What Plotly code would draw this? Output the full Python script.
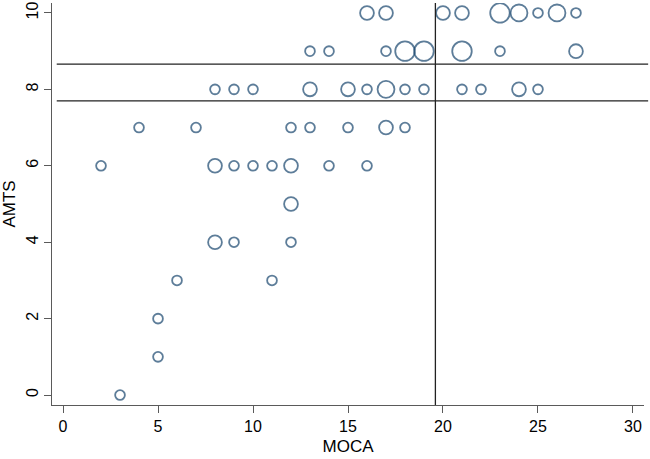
import plotly.graph_objects as go
import numpy as np

# MOCA (x), AMTS (y), number of observations at each point (weight)
moca = [16, 17, 20, 21, 23, 24, 25, 26, 27,
        13, 14, 17, 18, 19, 21, 23, 27,
        8, 9, 10, 13, 15, 16, 17, 18, 19, 21, 22, 24, 25,
        4, 7, 12, 13, 15, 17, 18,
        2, 8, 9, 10, 11, 12, 14, 16,
        12,
        8, 9, 12,
        6, 11,
        5,
        5,
        3]
amts = [10, 10, 10, 10, 10, 10, 10, 10, 10,
        9, 9, 9, 9, 9, 9, 9, 9,
        8, 8, 8, 8, 8, 8, 8, 8, 8, 8, 8, 8, 8,
        7, 7, 7, 7, 7, 7, 7,
        6, 6, 6, 6, 6, 6, 6, 6,
        5,
        4, 4, 4,
        3, 3,
        2,
        1,
        0]
count = [2, 2, 2, 2, 4, 3, 1, 3, 1,
         1, 1, 1, 4, 4, 4, 1, 2,
         1, 1, 1, 2, 2, 1, 3, 1, 1, 1, 1, 2, 1,
         1, 1, 1, 1, 1, 2, 1,
         1, 2, 1, 1, 1, 2, 1, 1,
         2,
         2, 1, 1,
         1, 1,
         1,
         1,
         1]

ref_x = 19.6          # vertical reference line (MOCA)
ref_y = [8.66, 7.70]  # horizontal reference lines (AMTS)

x_ticks = [0, 5, 10, 15, 20, 25, 30]
y_ticks = [0, 2, 4, 6, 8, 10]

navy = "#1a476f"
axis_col = "#5a5a5a"
font = "Liberation Sans, Arial, Helvetica, sans-serif"

fig = go.Figure()
fig.add_trace(go.Scatter(
    x=moca, y=amts, mode="markers",
    marker=dict(size=count, sizemode="area", sizeref=0.021,
                color="rgba(0,0,0,0)",
                line=dict(color=navy, width=1.8)),
    hoverinfo="x+y", showlegend=False,
))

for yv in ref_y:
    fig.add_shape(type="line", xref="paper", yref="y",
                  x0=0.008, x1=1.007, y0=yv, y1=yv,
                  line=dict(color="#222222", width=1.3))
fig.add_shape(type="line", xref="x", yref="paper",
              x0=ref_x, x1=ref_x, y0=0, y1=1,
              line=dict(color="#222222", width=1.3))

fig.update_layout(
    width=650, height=459,
    margin=dict(l=52, r=6, t=3, b=54),
    paper_bgcolor="white", plot_bgcolor="white",
    font=dict(family=font, size=16, color="#000000"),
    xaxis=dict(range=[-0.58, 30.58], tickvals=x_ticks,
               showgrid=False, zeroline=False,
               showline=True, linecolor=axis_col, linewidth=1.2,
               ticks="outside", ticklen=7, tickcolor=axis_col, tickwidth=1.2,
               tickfont=dict(size=16), title=dict(text="MOCA", font=dict(size=17), standoff=5)),
    yaxis=dict(range=[-0.26, 10.26], tickvals=y_ticks,
               showgrid=False, zeroline=False,
               showline=True, linecolor=axis_col, linewidth=1.2,
               ticks="outside", ticklen=7, tickcolor=axis_col, tickwidth=1.2,
               tickangle=-90, tickfont=dict(size=16),
               title=dict(text="AMTS", font=dict(size=17), standoff=3)),
)

fig.write_html("out.html", config={"displayModeBar": False},
               post_script="document.body.style.margin='0';document.body.style.overflow='hidden';")
